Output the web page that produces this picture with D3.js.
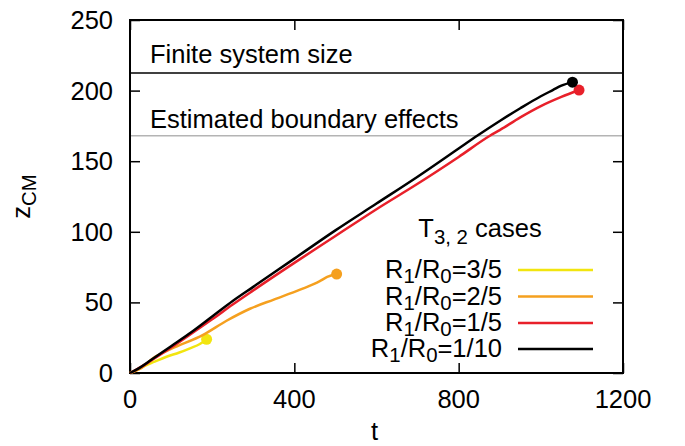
<!DOCTYPE html>
<html><head><meta charset="utf-8">
<script src="https://cdn.jsdelivr.net/npm/d3@7"></script>
<style>body{margin:0;background:#fff}svg{display:block}text{font-family:"Liberation Sans",Arial,sans-serif;fill:#000}</style>
</head><body><svg id="c" width="685" height="446"></svg>
<script>
const xTicks = [0, 400, 800, 1200];
const yTicks = [0, 50, 100, 150, 200, 250];
const seriesNames = ["3/5", "2/5", "1/5", "1/10"];
const seriesColors = ["#f2e50f", "#f5a01f", "#e8202a", "#000000"];
const yellowT = [0, 20, 32, 60, 89, 120, 146, 170, 180, 186.5];
const yellowZ = [0, 2.5, 4.5, 8, 11.5, 14.5, 17.5, 20.5, 22.5, 23.9];
const orangeT = [0, 25, 56, 100, 178, 235, 292, 350, 414, 462, 480, 503];
const orangeZ = [0, 3, 10.5, 17, 27, 37, 45.5, 52, 59, 65, 68, 70.1];
const redT = [0, 25, 50, 100, 150, 200, 250, 300, 400, 500, 600, 700, 800, 876, 900, 950, 1000, 1050, 1093];
const redZ = [0, 4, 8.5, 18, 28, 38, 48.5, 58.5, 78, 97, 116, 134, 153, 168, 172, 181, 189, 195.5, 200.4];
const blackT = [0, 25, 50, 100, 150, 200, 250, 300, 400, 500, 600, 700, 800, 845, 900, 950, 1000, 1030, 1050, 1077];
const blackZ = [0, 4, 9, 19, 29, 40, 51, 61, 81, 101, 120, 139, 159, 168, 178.5, 187.5, 196, 200.5, 203.5, 206];
const systemSize = 212.5;
const boundaryLevel = 168;

const svg = d3.select("#c");
const L = 130, R = 623, T = 20, B = 373;
const x = d3.scaleLinear().domain([0, 1200]).range([L, R]);
const y = d3.scaleLinear().domain([0, 250]).range([B, T]);
const FS = 25.5;

const series = [
  {name: seriesNames[0], color: seriesColors[0], t: yellowT, z: yellowZ},
  {name: seriesNames[1], color: seriesColors[1], t: orangeT, z: orangeZ},
  {name: seriesNames[2], color: seriesColors[2], t: redT, z: redZ},
  {name: seriesNames[3], color: seriesColors[3], t: blackT, z: blackZ}
];

// reference lines
svg.append("line").attr("x1", x(0)).attr("x2", x(1200)).attr("y1", y(boundaryLevel)).attr("y2", y(boundaryLevel))
  .attr("stroke", "#b4b4b4").attr("stroke-width", 1.5);
svg.append("line").attr("x1", x(0)).attr("x2", x(1200)).attr("y1", y(systemSize)).attr("y2", y(systemSize))
  .attr("stroke", "#000").attr("stroke-width", 1.5);
svg.append("text").attr("x", 150).attr("y", 63).attr("font-size", FS).text("Finite system size");
svg.append("text").attr("x", 150).attr("y", 128).attr("font-size", FS).text("Estimated boundary effects");

// axes (ticks inward, mirrored)
const tl = 10;
const gb = svg.append("g").attr("transform", `translate(0,${B})`)
  .call(d3.axisBottom(x).tickValues(xTicks).tickSize(-tl).tickFormat(""));
const gt = svg.append("g").attr("transform", `translate(0,${T})`)
  .call(d3.axisTop(x).tickValues(xTicks).tickSize(-tl).tickFormat(""));
const gl = svg.append("g").attr("transform", `translate(${L},0)`)
  .call(d3.axisLeft(y).tickValues(yTicks).tickSize(-tl).tickFormat(""));
const gr = svg.append("g").attr("transform", `translate(${R},0)`)
  .call(d3.axisRight(y).tickValues(yTicks).tickSize(-tl).tickFormat(""));
[gb, gt, gl, gr].forEach(g => {
  g.select(".domain").remove();
  g.selectAll(".tick line").attr("stroke", "#000").attr("stroke-width", 1.5);
});
svg.append("rect").attr("x", L).attr("y", T).attr("width", R - L).attr("height", B - T)
  .attr("fill", "none").attr("stroke", "#000").attr("stroke-width", 2);

// tick labels
svg.selectAll(".xl").data(xTicks).enter().append("text")
  .attr("x", d => x(d)).attr("y", 408).attr("text-anchor", "middle").attr("font-size", FS).text(d => d);
svg.selectAll(".yl").data(yTicks).enter().append("text")
  .attr("x", 113).attr("y", d => y(d) + 9).attr("text-anchor", "end").attr("font-size", FS).text(d => d);

// axis labels
svg.append("text").attr("x", x(600) - 2).attr("y", 440).attr("text-anchor", "middle").attr("font-size", FS).text("t");
const yl = svg.append("text").attr("transform", `translate(30,${(T + B) / 2}) rotate(-90)`)
  .attr("text-anchor", "middle").attr("font-size", FS);
yl.append("tspan").text("z");
yl.append("tspan").attr("font-size", FS * 0.8).attr("dy", 6).text("CM");

// series
const line = d3.line().x(d => x(d[0])).y(d => y(d[1])).curve(d3.curveMonotoneX);
series.forEach(s => {
  const pts = s.t.map((t, i) => [t, s.z[i]]);
  svg.append("path").datum(pts).attr("d", line).attr("fill", "none")
    .attr("stroke", s.color).attr("stroke-width", 2.5).attr("stroke-linejoin", "round");
  const last = pts[pts.length - 1];
  svg.append("circle").attr("cx", x(last[0])).attr("cy", y(last[1])).attr("r", 5.5).attr("fill", s.color);
});

// legend
const lt = svg.append("text").attr("x", 480).attr("y", 237).attr("text-anchor", "middle").attr("font-size", FS);
lt.append("tspan").text("T");
lt.append("tspan").attr("font-size", FS * 0.8).attr("dy", 7).text("3, 2");
lt.append("tspan").attr("dy", -7).text(" cases");
const legY = [270, 296.5, 323, 349];
series.forEach((s, i) => {
  const ty = legY[i];
  const tx = svg.append("text").attr("x", 502).attr("y", ty + 8).attr("text-anchor", "end").attr("font-size", FS);
  tx.append("tspan").text("R");
  tx.append("tspan").attr("font-size", FS * 0.8).attr("dy", 5).text("1");
  tx.append("tspan").attr("dy", -5).text("/R");
  tx.append("tspan").attr("font-size", FS * 0.8).attr("dy", 5).text("0");
  tx.append("tspan").attr("dy", -5).text("=" + s.name);
  svg.append("line").attr("x1", 518).attr("x2", 593).attr("y1", ty).attr("y2", ty)
    .attr("stroke", s.color).attr("stroke-width", 2.5);
});
</script></body></html>
